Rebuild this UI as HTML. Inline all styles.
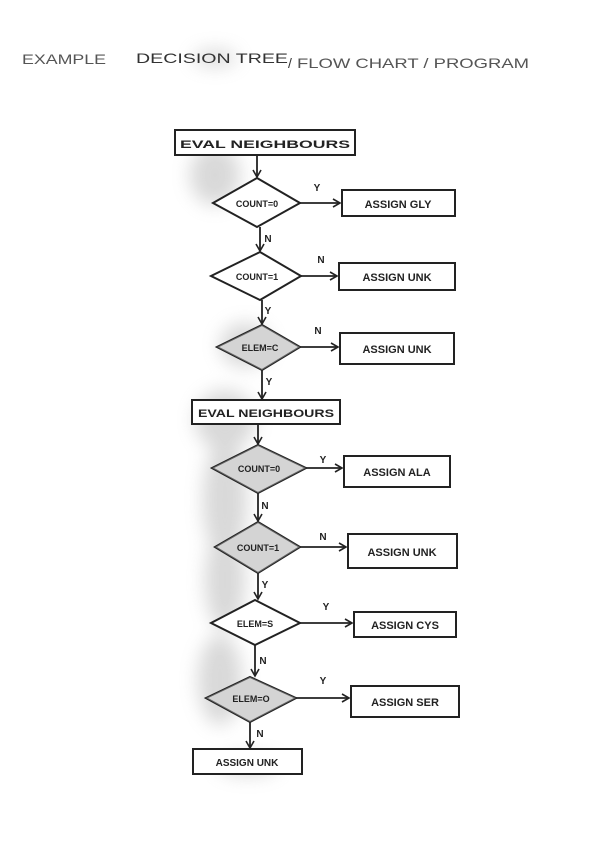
<!DOCTYPE html>
<html><head><meta charset="utf-8"><style>
html,body{margin:0;padding:0;background:#fff;}
svg{display:block;}
text{font-family:"Liberation Sans",sans-serif;fill:#222;}
</style></head><body>
<svg width="608" height="842" viewBox="0 0 608 842" xmlns="http://www.w3.org/2000/svg">
<defs>
<filter id="b" x="-50%" y="-50%" width="200%" height="200%"><feGaussianBlur stdDeviation="9"/></filter>
<marker id="a" markerWidth="10" markerHeight="10" refX="8" refY="5" orient="auto" markerUnits="userSpaceOnUse"><path d="M1,1 L8,5 L1,9" fill="none" stroke="#222" stroke-width="1.6"/></marker>
</defs>
<rect width="608" height="842" fill="#fff"/>
<!-- shading -->
<g fill="#aaa" opacity="0.45" filter="url(#b)">
<ellipse cx="215" cy="175" rx="25" ry="30"/>
<ellipse cx="225" cy="420" rx="30" ry="30"/>
<ellipse cx="225" cy="500" rx="22" ry="60"/>
<ellipse cx="225" cy="580" rx="20" ry="50"/>
<ellipse cx="220" cy="680" rx="22" ry="45"/>
<ellipse cx="248" cy="765" rx="30" ry="10"/>
<ellipse cx="245" cy="345" rx="25" ry="22"/>
<ellipse cx="215" cy="58" rx="22" ry="8"/>
</g>
<!-- title -->
<g font-size="14">
<text x="22" y="64" textLength="84" lengthAdjust="spacingAndGlyphs" style="fill:#555">EXAMPLE</text>
<text x="136" y="63" textLength="152" lengthAdjust="spacingAndGlyphs" style="fill:#333">DECISION TREE</text>
<text x="288" y="68" style="fill:#333">/</text>
<text x="297" y="68" textLength="232" lengthAdjust="spacingAndGlyphs" style="fill:#555">FLOW CHART / PROGRAM</text>
</g>
<g fill="#fff" stroke="#222" stroke-width="2">
<rect x="175" y="130" width="180" height="25"/>
<rect x="342" y="190" width="113" height="26"/>
<rect x="339" y="263" width="116" height="27"/>
<rect x="340" y="333" width="114" height="31"/>
<rect x="192" y="400" width="148" height="24"/>
<rect x="344" y="456" width="106" height="31"/>
<rect x="348" y="534" width="109" height="34"/>
<rect x="354" y="612" width="102" height="25"/>
<rect x="351" y="686" width="108" height="31"/>
<rect x="193" y="749" width="109" height="25"/>
<polygon points="257,178 300,203 257,227 213,203"/>
<polygon points="260,252 301,276 260,300 211,276"/>
<polygon points="262,325 300,347 262,370 217,347"/>
<polygon points="258,445 306,468 258,493 212,468"/>
<polygon points="258,522 300,547 258,573 215,547"/>
<polygon points="255,600 300,623 255,645 211,623"/>
<polygon points="250,677 296,698 250,722 206,698"/>
</g>
<g fill="#aaa" opacity="0.5">
<polygon points="258,445 306,468 258,493 212,468"/>
<polygon points="258,522 300,547 258,573 215,547"/>
<polygon points="250,677 296,698 250,722 206,698"/>
<polygon points="262,325 300,347 262,370 217,347"/>
</g>
<g stroke="#222" stroke-width="1.8" fill="none" marker-end="url(#a)">
<line x1="257" y1="155" x2="257" y2="177"/>
<line x1="300" y1="203" x2="340" y2="203"/>
<line x1="260" y1="227" x2="260" y2="251"/>
<line x1="301" y1="276" x2="337" y2="276"/>
<line x1="262" y1="300" x2="262" y2="324"/>
<line x1="300" y1="347" x2="338" y2="347"/>
<line x1="262" y1="370" x2="262" y2="399"/>
<line x1="258" y1="424" x2="258" y2="444"/>
<line x1="306" y1="468" x2="342" y2="468"/>
<line x1="258" y1="493" x2="258" y2="521"/>
<line x1="300" y1="547" x2="346" y2="547"/>
<line x1="258" y1="573" x2="258" y2="599"/>
<line x1="300" y1="623" x2="352" y2="623"/>
<line x1="255" y1="645" x2="255" y2="676"/>
<line x1="296" y1="698" x2="349" y2="698"/>
<line x1="250" y1="722" x2="250" y2="748"/>
</g>
<g font-size="11" font-weight="bold" text-anchor="middle">
<text x="265" y="148" textLength="170" lengthAdjust="spacingAndGlyphs">EVAL  NEIGHBOURS</text>
<text x="398" y="208">ASSIGN GLY</text>
<text x="397" y="281">ASSIGN UNK</text>
<text x="397" y="353">ASSIGN UNK</text>
<text x="266" y="417" textLength="136" lengthAdjust="spacingAndGlyphs">EVAL  NEIGHBOURS</text>
<text x="397" y="476">ASSIGN ALA</text>
<text x="402" y="556">ASSIGN UNK</text>
<text x="405" y="629">ASSIGN CYS</text>
<text x="405" y="706">ASSIGN SER</text>
<text x="247" y="766" font-size="10">ASSIGN UNK</text>
<g font-size="9">
<text x="257" y="207">COUNT=0</text>
<text x="257" y="280">COUNT=1</text>
<text x="260" y="351">ELEM=C</text>
<text x="259" y="472">COUNT=0</text>
<text x="258" y="551">COUNT=1</text>
<text x="255" y="627">ELEM=S</text>
<text x="251" y="702">ELEM=O</text>
</g>
<g font-size="10">
<text x="317" y="191">Y</text>
<text x="268" y="242">N</text>
<text x="321" y="263">N</text>
<text x="268" y="314">Y</text>
<text x="318" y="334">N</text>
<text x="269" y="385">Y</text>
<text x="323" y="463">Y</text>
<text x="265" y="509">N</text>
<text x="323" y="540">N</text>
<text x="265" y="588">Y</text>
<text x="326" y="610">Y</text>
<text x="263" y="664">N</text>
<text x="323" y="684">Y</text>
<text x="260" y="737">N</text>
</g>
</g>
</svg>
</body></html>
